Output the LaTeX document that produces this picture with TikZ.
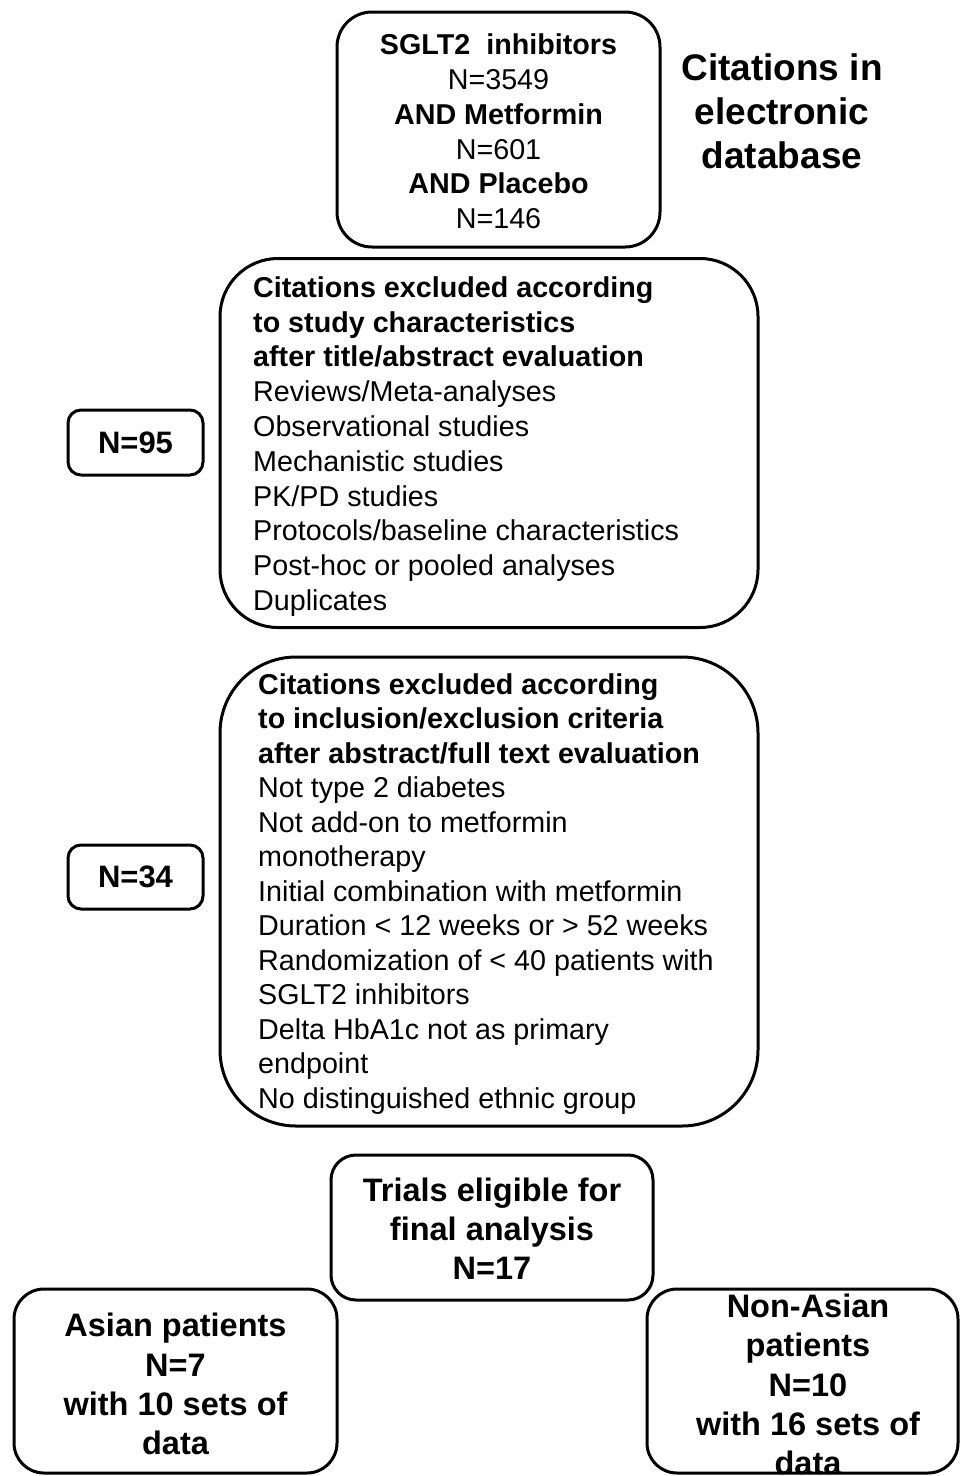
\documentclass[tikz,border=0pt]{standalone}
\usepackage{fontspec}
\setmainfont{Liberation Sans}
\begin{document}
\begin{tikzpicture}[x=1pt,y=-1pt,
  box/.style={draw=black, line width=3pt, rounded corners=#1, inner sep=0pt},
  box/.default=30pt,
  boxtxt/.style={font=\fontsize{28.7}{34.8}\selectfont, inner sep=0pt},
  bigtxt/.style={font=\fontsize{32.5}{39.2}\selectfont\bfseries, inner sep=0pt, align=center},
  ntxt/.style={font=\fontsize{31}{36}\selectfont\bfseries}
]
\useasboundingbox (0,0) rectangle (960,1476);
\fill[white] (0,0) rectangle (960,1476);

% top search box
\node[box=35pt, minimum width=323pt, minimum height=235pt] (search) at (498.5,129.5) {};
\node[boxtxt, align=center] (searchtxt) at (498.5,131.5)
  {\textbf{SGLT2\ \ inhibitors}\\N=3549\\\textbf{AND Metformin}\\N=601\\\textbf{AND Placebo}\\N=146};

\node[font=\fontsize{37}{44}\selectfont\bfseries, align=center, inner sep=0pt] (title) at (782,111)
  {Citations in\\electronic\\database};

% first exclusion box
\node[box=58pt, minimum width=538pt, minimum height=369pt] (excl1) at (489,443) {};
\node[boxtxt, align=left, anchor=west] (excl1txt) at (253,446.5)
  {\textbf{Citations excluded according}\\
   \textbf{to study characteristics}\\
   \textbf{after title/abstract evaluation}\\
   Reviews/Meta-analyses\\
   Observational studies\\
   Mechanistic studies\\
   PK/PD studies\\
   Protocols/baseline characteristics\\
   Post-hoc or pooled analyses\\
   Duplicates};

\node[box=13pt, minimum width=135pt, minimum height=65pt, ntxt] (n95) at (135.5,442.5) {N=95};

% second exclusion box
\node[box=76pt, minimum width=538pt, minimum height=469pt] (excl2) at (489,891.5) {};
\node[font=\fontsize{28.7}{34.5}\selectfont, inner sep=0pt, align=left, anchor=west] (excl2txt) at (258,894)
  {\textbf{Citations excluded according}\\
   \textbf{to inclusion/exclusion criteria}\\
   \textbf{after abstract/full text evaluation}\\
   Not type 2 diabetes\\
   Not add-on to metformin\\
   monotherapy\\
   Initial combination with metformin\\
   Duration < 12 weeks or > 52 weeks\\
   Randomization of < 40 patients with\\
   SGLT2 inhibitors\\
   Delta HbA1c not as primary\\
   endpoint\\
   No distinguished ethnic group};

\node[box=13pt, minimum width=135pt, minimum height=64pt, ntxt] (n34) at (135.5,877) {N=34};

% final boxes
\node[box=25pt, minimum width=322pt, minimum height=145pt] (final) at (492,1227.5) {};
\node[bigtxt] (finaltxt) at (492,1228.5)
  {Trials eligible for\\final analysis\\N=17};

\node[box=30pt, minimum width=323pt, minimum height=184pt] (asian) at (175.5,1381) {};
\node[bigtxt] (asiantxt) at (175.5,1384)
  {Asian patients\\N=7\\with 10 sets of\\data};

\node[box=30pt, minimum width=311pt, minimum height=184pt] (nonasian) at (802.5,1381) {};
\node[bigtxt] (nonasiantxt) at (808,1384.5)
  {Non-Asian\\patients\\N=10\\with 16 sets of\\data};
\end{tikzpicture}
\end{document}
